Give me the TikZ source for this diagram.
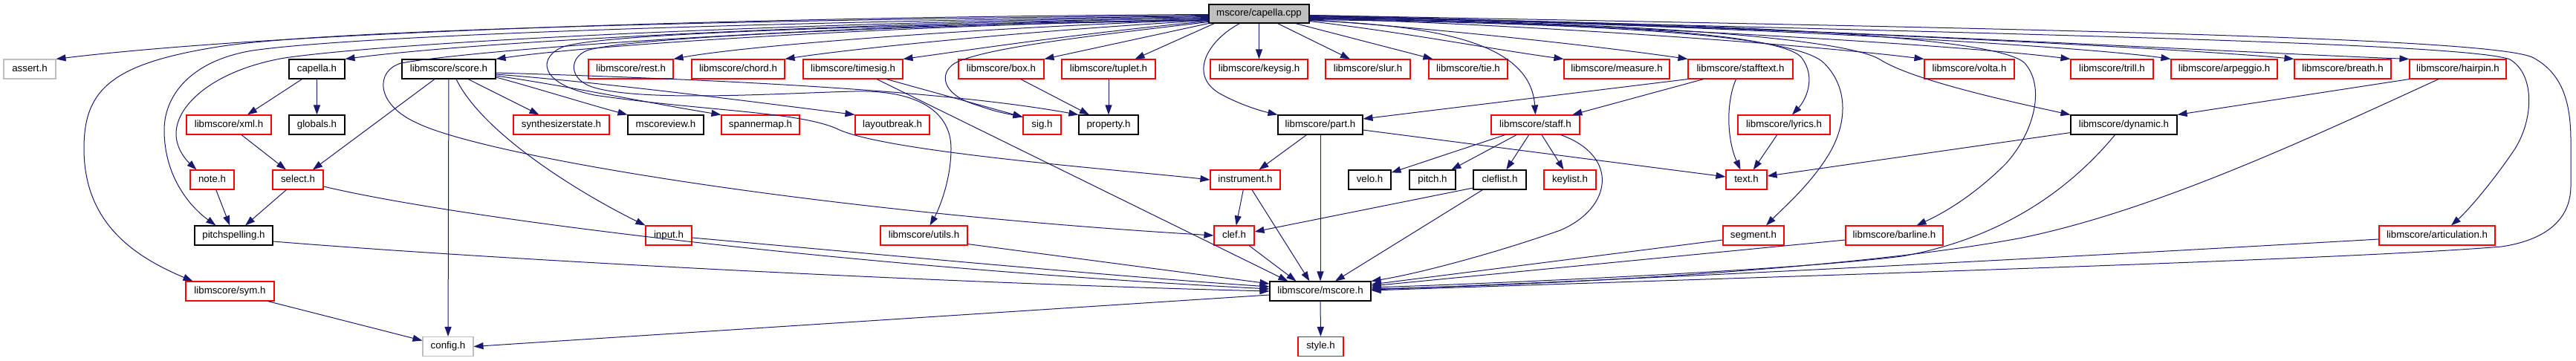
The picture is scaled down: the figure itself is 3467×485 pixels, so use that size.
\documentclass[tikz,border=0pt]{standalone}
\usepackage{fontspec}
\setmainfont{Liberation Sans}
\usetikzlibrary{arrows.meta,calc}
\definecolor{edgeblue}{HTML}{191970}
\definecolor{grey75}{HTML}{BFBFBF}
\tikzset{
  nd/.style={rectangle, draw, fill=white, line width=1.1pt, minimum height=26pt, inner sep=0pt,
    text height=9.6pt, text depth=2.8pt, font=\fontsize{13.3pt}{16pt}\selectfont},
  rn/.style={nd, draw=red},
  bn/.style={nd, draw=black},
  gn/.style={nd, draw=grey75},
  rootn/.style={nd, draw=black, fill=grey75, minimum height=25pt},
  e/.style={draw=edgeblue, line width=1pt, -{Triangle[length=13pt,width=9pt]}},
}
\begin{document}
\begin{tikzpicture}[x=1pt,y=-1pt]
\fill[white] (0,0) rectangle (3467,485);
\useasboundingbox (0,0) rectangle (3467,485);
% row 0
\node[rootn, minimum width=135pt] (cpp) at (1694.5,18.5) {mscore/capella.cpp};
% row 1
\node[gn, minimum width=70pt] (assert) at (40,93) {assert.h};
\node[bn, minimum width=75pt] (capellah) at (426.5,93) {capella.h};
\node[bn, minimum width=126pt] (score) at (604,93) {libmscore/score.h};
\node[rn, minimum width=114pt] (rest) at (849,93) {libmscore/rest.h};
\node[rn, minimum width=125pt] (chord) at (993.5,93) {libmscore/chord.h};
\node[rn, minimum width=134pt] (timesig) at (1148,93) {libmscore/timesig.h};
\node[rn, minimum width=115pt] (boxh) at (1347.5,93) {libmscore/box.h};
\node[rn, minimum width=126pt] (tuplet) at (1492,93) {libmscore/tuplet.h};
\node[rn, minimum width=131pt] (keysig) at (1694.5,93) {libmscore/keysig.h};
\node[rn, minimum width=114pt] (slur) at (1841,93) {libmscore/slur.h};
\node[rn, minimum width=106pt] (tie) at (1976,93) {libmscore/tie.h};
\node[rn, minimum width=142pt] (measure) at (2176,93) {libmscore/measure.h};
\node[rn, minimum width=141pt] (stafftext) at (2342.5,93) {libmscore/stafftext.h};
\node[rn, minimum width=121pt] (volta) at (2650.5,93) {libmscore/volta.h};
\node[rn, minimum width=111pt] (trill) at (2842.5,93) {libmscore/trill.h};
\node[rn, minimum width=143pt] (arpeggio) at (2993.5,93) {libmscore/arpeggio.h};
\node[rn, minimum width=130pt] (breath) at (3153,93) {libmscore/breath.h};
\node[rn, minimum width=130pt] (hairpin) at (3308,93) {libmscore/hairpin.h};
% row 2
\node[rn, minimum width=114pt] (xml) at (308,168) {libmscore/xml.h};
\node[bn, minimum width=75pt] (globals) at (426.5,168) {globals.h};
\node[rn, minimum width=129pt] (synth) at (755.5,168) {synthesizerstate.h};
\node[bn, minimum width=102pt] (mscoreview) at (896,168) {mscoreview.h};
\node[rn, minimum width=105pt] (spannermap) at (1023.5,168) {spannermap.h};
\node[rn, minimum width=100pt] (layoutbreak) at (1201,168) {layoutbreak.h};
\node[rn, minimum width=51pt] (sig) at (1402.5,168) {sig.h};
\node[bn, minimum width=80pt] (property) at (1492,168) {property.h};
\node[bn, minimum width=114pt] (parth) at (1777,168) {libmscore/part.h};
\node[rn, minimum width=119pt] (staff) at (2066.5,168) {libmscore/staff.h};
\node[rn, minimum width=124pt] (lyrics) at (2401,168) {libmscore/lyrics.h};
\node[bn, minimum width=143pt] (dynamic) at (2858.5,168) {libmscore/dynamic.h};
% row 3
\node[rn, minimum width=59pt] (note) at (285.5,242) {note.h};
\node[rn, minimum width=68pt] (selecth) at (401,242) {select.h};
\node[rn, minimum width=94pt] (instrument) at (1676,242) {instrument.h};
\node[bn, minimum width=57pt] (velo) at (1843.5,242) {velo.h};
\node[bn, minimum width=62pt] (pitchh) at (1928,242) {pitch.h};
\node[bn, minimum width=71pt] (cleflist) at (2018.5,242) {cleflist.h};
\node[rn, minimum width=70pt] (keylist) at (2113,242) {keylist.h};
\node[rn, minimum width=55pt] (texth) at (2350.5,242) {text.h};
% row 4
\node[bn, minimum width=105pt] (pitchspelling) at (314.5,317) {pitchspelling.h};
\node[rn, minimum width=62pt] (inputh) at (900,317) {input.h};
\node[rn, minimum width=117pt] (utils) at (1243.5,317) {libmscore/utils.h};
\node[rn, minimum width=54pt] (clef) at (1661,317) {clef.h};
\node[rn, minimum width=82pt] (segment) at (2360,317) {segment.h};
\node[rn, minimum width=131pt] (barline) at (2549.5,317) {libmscore/barline.h};
\node[rn, minimum width=156pt] (articulation) at (3280,317) {libmscore/articulation.h};
% row 5
\node[rn, minimum width=119pt] (sym) at (309.5,392) {libmscore/sym.h};
\node[bn, minimum width=136pt] (mscore) at (1777,392) {libmscore/mscore.h};
% row 6
\node[gn, minimum width=68pt] (config) at (603,466.5) {config.h};
\node[rn, minimum width=61pt] (styleh) at (1777.5,466.5) {style.h};

% ---- edges from capella.cpp, leftwards
\draw[e] ($(cpp.west)+(0,1)$) .. controls (1100,22) and (400,40) .. (assert.north east);
\draw[e] ($(cpp.west)+(0,2)$) .. controls (1000,27) and (450,40) .. (300,62) .. controls (150,85) and (113,120) .. (113,200) .. controls (113,300) and (180,345) .. ($(sym.north west)+(10,0)$);
\draw[e] ($(cpp.west)+(0,3)$) .. controls (1000,30) and (480,48) .. (340,68) .. controls (255,82) and (221,130) .. (221,175) .. controls (221,240) and (258,280) .. ($(pitchspelling.north west)+(29,0)$);
\draw[e] ($(cpp.west)+(0,4)$) .. controls (1000,32) and (520,58) .. (383,78) .. controls (290,94) and (237,140) .. (237,180) .. controls (237,200) and (250,215) .. ($(note.north)+(-21,0)$);
\draw[e] ($(cpp.west)+(0,5)$) .. controls (1000,38) and (620,70) .. (540,85) .. controls (505,95) and (505,140) .. (560,165) .. controls (650,210) and (1100,285) .. (clef.west);
\draw[e] ($(cpp.west)+(0,6)$) .. controls (1150,30) and (650,55) .. (capellah.north east);
\draw[e] ($(cpp.west)+(0,7)$) .. controls (1200,35) and (800,60) .. (score.north east);
\draw[e] ($(cpp.west)+(0,8)$) .. controls (1300,32) and (820,42) .. (758,63) .. controls (725,76) and (722,112) .. (800,128) .. controls (950,150) and (1080,150) .. (1130,175) .. controls (1200,205) and (1500,228) .. (instrument.west);
\draw[e] ($(cpp.west)+(0,9)$) .. controls (1300,32) and (850,48) .. (790,68) .. controls (765,78) and (765,108) .. (800,118) .. controls (870,138) and (1060,125) .. (1150,123) .. controls (1235,121) and (1280,150) .. (1280,200) .. controls (1280,245) and (1262,285) .. ($(utils.north)+(8,0)$);
\draw[e] ($(cpp.west)+(0,8)$) .. controls (1300,38) and (1000,62) .. (rest.north east);
\draw[e] ($(cpp.west)+(0,9)$) .. controls (1400,40) and (1150,65) .. (chord.north east);
\draw[e] ($(cpp.west)+(0,10)$) .. controls (1450,45) and (1300,68) .. (timesig.north east);
\draw[e] ($(cpp.west)+(0,11)$) .. controls (1500,45) and (1330,62) .. (1285,85) .. controls (1262,100) and (1270,127) .. (1310,140) .. controls (1340,150) .. ($(sig.north west)+(0,3)$);
\draw[e] (cpp.south west) -- (boxh.north east);
\draw[e] ($(cpp.south west)+(8,0)$) -- ($(tuplet.north east)+(-28,0)$);
\draw[e] ($(cpp.south west)+(42,0)$) .. controls (1625,55) and (1600,100) .. (1640,125) .. controls (1670,142) and (1700,150) .. (parth.north west);
\draw[e] (cpp) -- (keysig);
% ---- edges from capella.cpp, rightwards
\draw[e] ($(cpp.south)+(25,0)$) -- ($(slur.north)+(-24,0)$);
\draw[e] ($(cpp.south east)+(-19,0)$) -- ($(tie.north west)+(6,0)$);
\draw[e] ($(cpp.east)+(0,10)$) .. controls (1900,45) and (2000,65) .. (measure.north west);
\draw[e] ($(cpp.east)+(0,9)$) .. controls (1950,35) and (2060,62) .. (staff.north);
\draw[e] ($(cpp.east)+(0,8)$) .. controls (1950,40) and (2150,62) .. (stafftext.north west);
\draw[e] ($(cpp.east)+(0,7)$) .. controls (2150,30) and (2400,45) .. (2425,78) .. controls (2445,105) and (2430,135) .. ($(lyrics.north)+(11,0)$);
\draw[e] ($(cpp.east)+(0,8)$) .. controls (2200,32) and (2420,50) .. (2455,85) .. controls (2490,120) and (2485,170) .. (2460,210) .. controls (2435,250) and (2400,280) .. ($(segment.north)+(17,0)$);
\draw[e] ($(cpp.east)+(0,6)$) .. controls (2100,35) and (2450,62) .. (volta.north west);
\draw[e] ($(cpp.east)+(0,6)$) .. controls (2250,30) and (2490,55) .. (2530,80) .. controls (2565,102) and (2650,125) .. (dynamic.north west);
\draw[e] ($(cpp.east)+(0,5)$) .. controls (2200,33) and (2650,62) .. (trill.north west);
\draw[e] ($(cpp.east)+(0,5)$) .. controls (2350,30) and (2690,50) .. (2725,85) .. controls (2752,115) and (2740,175) .. (2700,220) .. controls (2660,260) and (2620,285) .. ($(barline.north)+(30,0)$);
\draw[e] ($(cpp.east)+(0,4)$) .. controls (2300,32) and (2800,62) .. (arpeggio.north west);
\draw[e] ($(cpp.east)+(0,3)$) .. controls (2350,34) and (2950,66) .. (breath.north west);
\draw[e] ($(cpp.east)+(0,2)$) .. controls (2400,35) and (2950,68) .. (hairpin.north west);
\draw[e] ($(cpp.east)+(0,3)$) .. controls (2700,45) and (3320,58) .. (3378,80) .. controls (3412,100) and (3410,160) .. (3385,200) .. controls (3355,245) and (3320,285) .. ($(articulation.north)+(19,0)$);
\draw[e] ($(cpp.east)+(0,2)$) .. controls (2700,38) and (3360,50) .. (3410,78) .. controls (3450,100) and (3460,140) .. (3460,190) -- (3460,250) .. controls (3460,300) and (3420,324) .. (3367,332) .. controls (3150,350) and (2400,372) .. ($(mscore.east)+(0,-1)$);
% ---- other edges
\draw[e] ($(capellah.south)+(-20,0)$) -- ($(xml.north)+(25,0)$);
\draw[e] (capellah) -- (globals);
\draw[e] ($(xml.south)+(17,0)$) -- ($(selecth.north)+(-16,0)$);
\draw[e] ($(score.south)+(-19,0)$) -- ($(selecth.north)+(20,0)$);
\draw[e] (score) -- (config);
\draw[e] ($(score.south)+(10,0)$) .. controls (650,180) and (780,260) .. (inputh.north west);
\draw[e] ($(score.south)+(26,0)$) -- ($(synth.north)+(-30,0)$);
\draw[e] ($(score.east)+(0,11)$) .. controls (720,118) and (790,140) .. (mscoreview.north west);
\draw[e] ($(score.east)+(0,9)$) .. controls (760,115) and (880,140) .. (spannermap.north west);
\draw[e] ($(score.east)+(0,7)$) .. controls (800,110) and (1000,135) .. (layoutbreak.north west);
\draw[e] ($(score.east)+(0,5)$) .. controls (900,105) and (1250,118) .. (property.north west);
\draw[e] (note) -- (pitchspelling);
\draw[e] (selecth) -- (pitchspelling);
\draw[e] ($(selecth.east)+(0,9)$) .. controls (620,295) and (1150,360) .. ($(mscore.west)+(0,-3)$);
\draw[e] ($(pitchspelling.east)+(0,8)$) .. controls (700,352) and (1300,382) .. (mscore.west);
\draw[e] ($(inputh.east)+(0,3)$) .. controls (1200,344) and (1500,372) .. ($(mscore.west)+(0,-6)$);
\draw[e] ($(utils.south east)+(0,-2)$) -- ($(mscore.west)+(0,-10)$);
\draw[e] ($(sym.south east)+(-9,0)$) -- ($(config.west)+(0,-8)$);
\draw[e] ($(mscore.west)+(0,5)$) -- (config.east);
\draw[e] (mscore) -- (styleh);
\draw[e] ($(timesig.south)+(45,0)$) -- ($(sig.north west)+(0,3)$);
\draw[e] ($(timesig.south)+(32,0)$) -- ($(mscore.north west)+(25,0)$);
\draw[e] (boxh) -- (property);
\draw[e] (tuplet) -- (property);
\draw[e] (parth) -- (instrument);
\draw[e] ($(parth.east)+(0,7)$) -- ($(texth.west)+(0,-4)$);
\draw[e] (parth) -- (mscore);
\draw[e] (stafftext.south west) -- ($(parth.east)+(0,-8)$);
\draw[e] (stafftext) -- (staff);
\draw[e] ($(stafftext.south)+(-6,0)$) .. controls (2322,140) and (2325,190) .. ($(texth.north)+(-8,0)$);
\draw[e] (staff) -- (velo);
\draw[e] (staff) -- (pitchh);
\draw[e] (staff) -- (cleflist);
\draw[e] (staff) -- (keylist);
\draw[e] ($(staff.south east)+(-26,0)$) .. controls (2180,210) and (2170,280) .. (2100,310) .. controls (2000,345) and (1900,370) .. (mscore.north east);
\draw[e] ($(cleflist.west)+(0,11)$) -- ($(clef.east)+(0,-5)$);
\draw[e] ($(cleflist.south west)+(13,0)$) -- ($(mscore.north)+(20,0)$);
\draw[e] (instrument) -- (clef);
\draw[e] ($(instrument.south)+(9,0)$) -- ($(mscore.north west)+(54,0)$);
\draw[e] ($(clef.south)+(20,0)$) -- ($(mscore.north west)+(36,0)$);
\draw[e] (lyrics) -- (texth);
\draw[e] ($(dynamic.south west)+(0,-3)$) -- ($(texth.east)+(0,-5)$);
\draw[e] ($(dynamic.south)+(-12,0)$) .. controls (2790,250) and (2700,320) .. (2560,345) .. controls (2400,365) and (2000,382) .. ($(mscore.east)+(0,-5)$);
\draw[e] (hairpin.south west) -- (dynamic.north east);
\draw[e] ($(hairpin.south)+(-26,0)$) .. controls (3100,190) and (2900,283) .. (2722,320) .. controls (2500,362) and (2100,383) .. ($(mscore.east)+(0,-3)$);
\draw[e] ($(articulation.west)+(0,5)$) .. controls (2800,345) and (2300,372) .. ($(mscore.east)+(0,-2)$);
\draw[e] ($(barline.west)+(0,6)$) -- ($(mscore.east)+(0,-7)$);
\draw[e] ($(segment.west)+(0,6)$) -- ($(mscore.east)+(0,-9)$);
\end{tikzpicture}
\end{document}
